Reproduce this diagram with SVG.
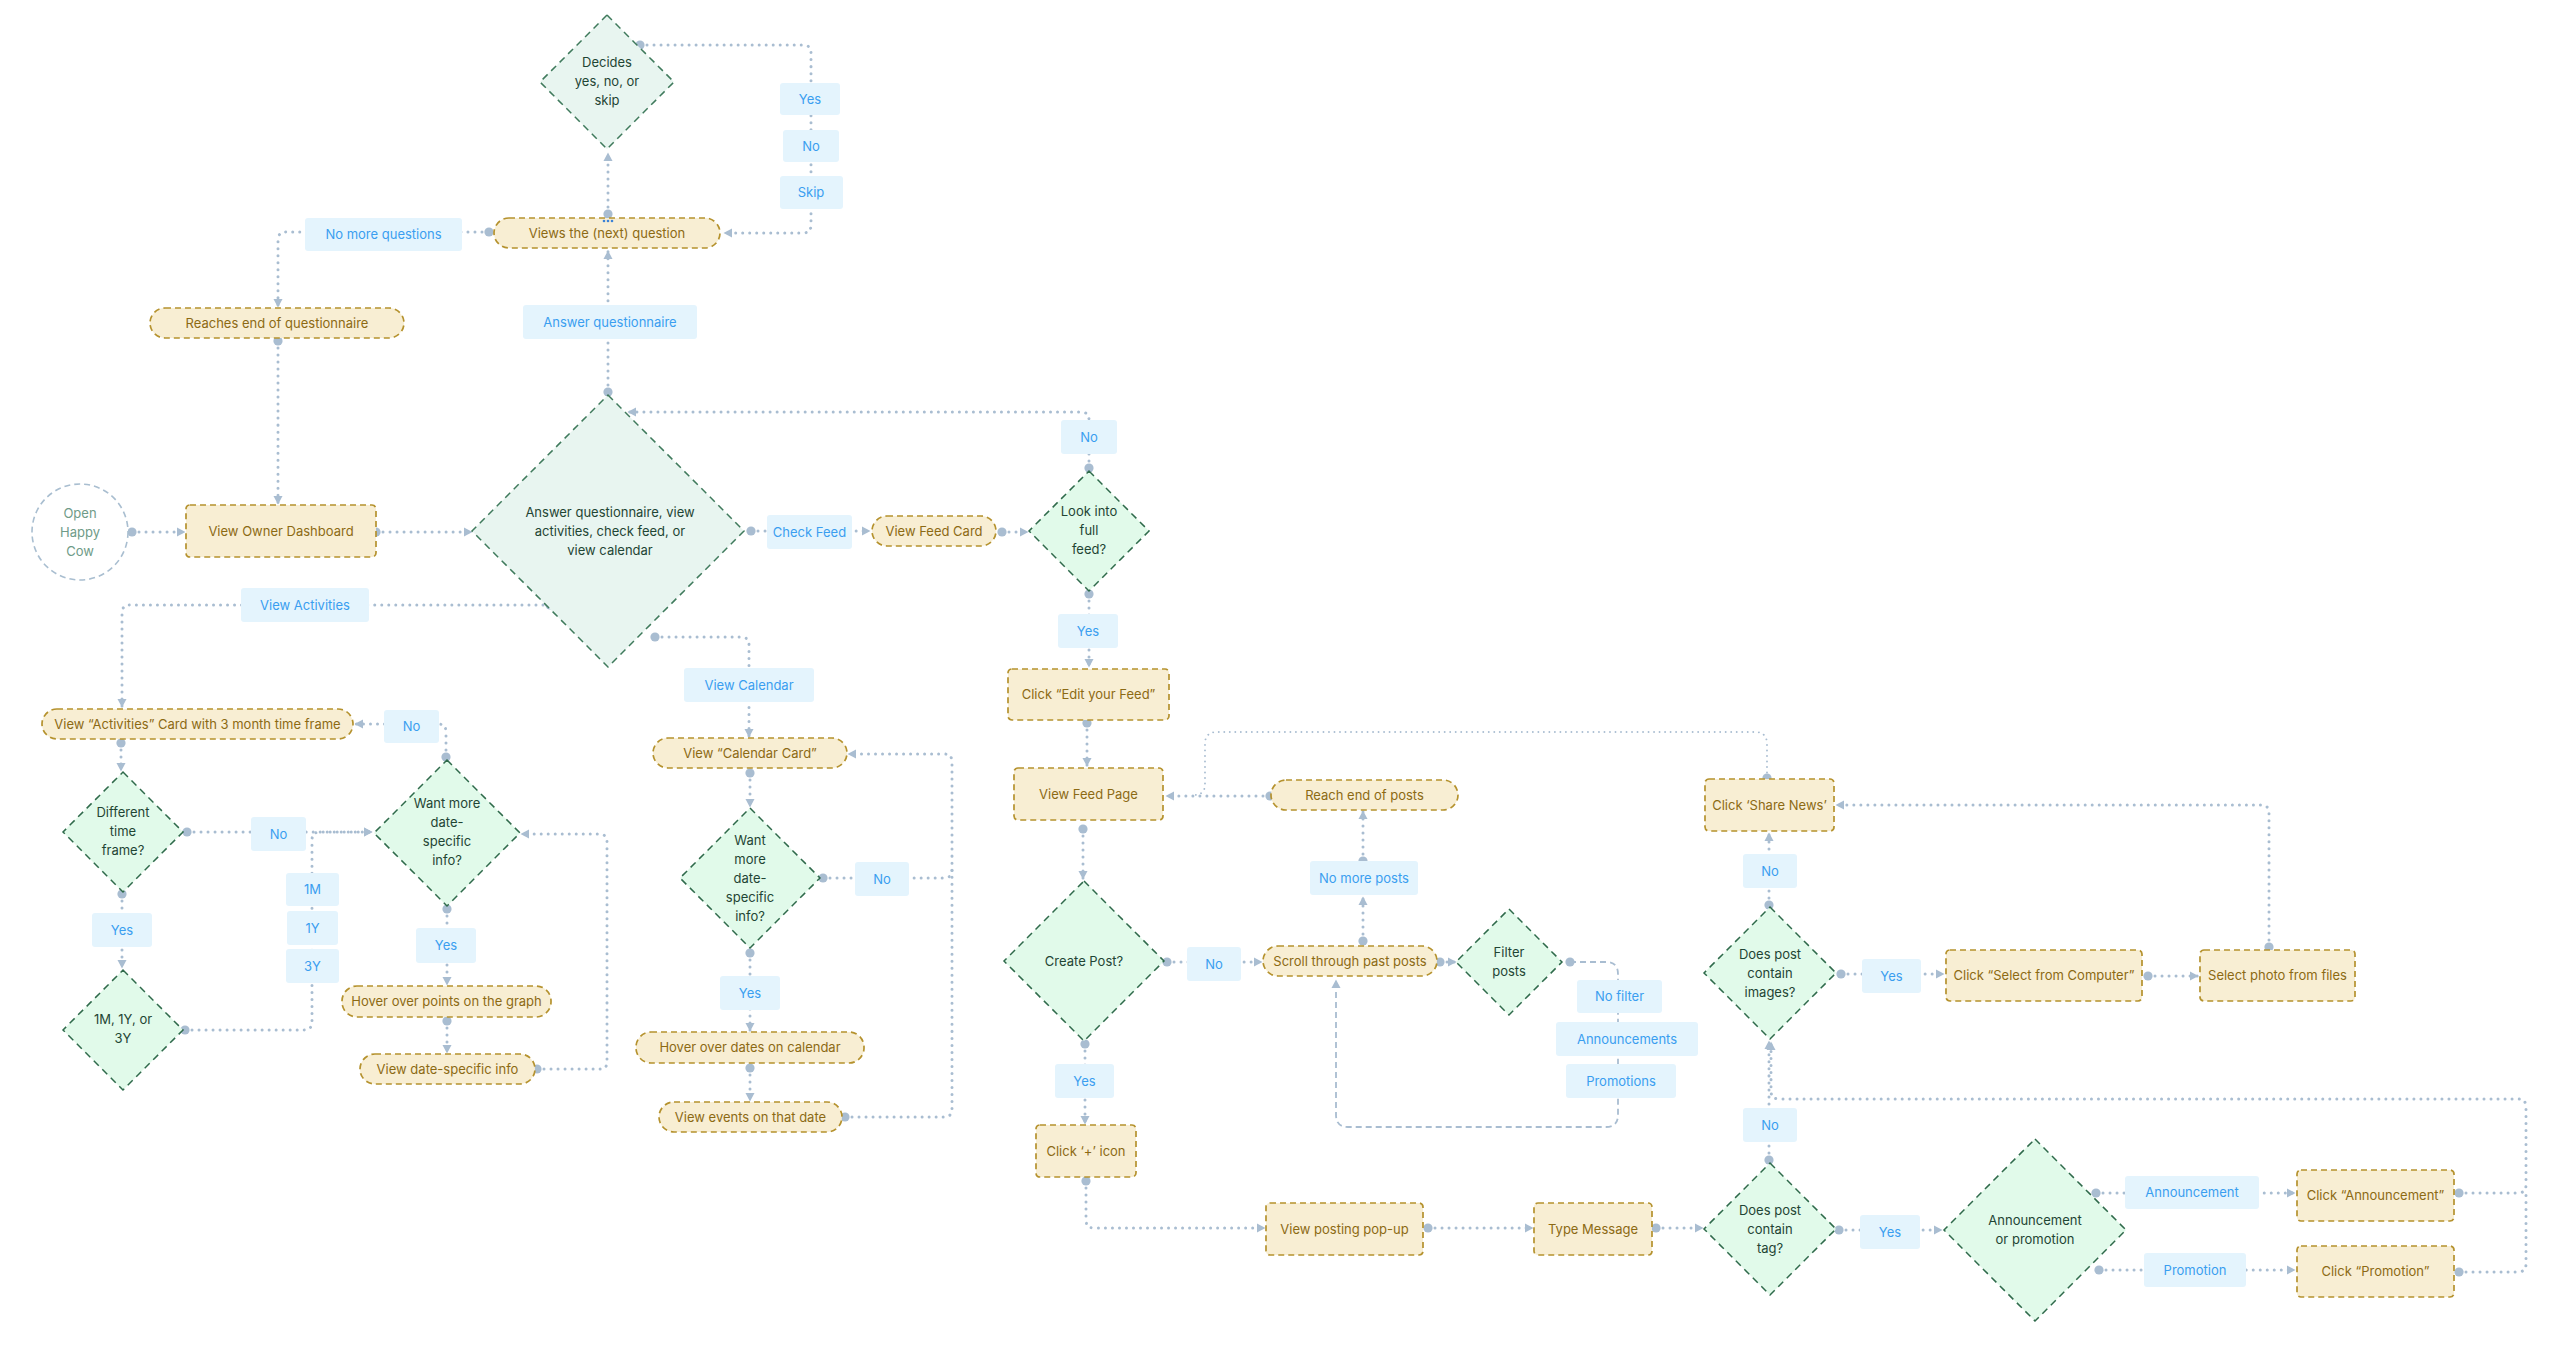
<svg xmlns="http://www.w3.org/2000/svg" width="2564" height="1364" viewBox="0 0 2564 1364">
<defs>
<style>
.p{fill:#F8EED3;stroke:#B5922E;stroke-width:1.7;stroke-dasharray:6 4}
.d{fill:#E1FAEA;stroke:#2F6A4B;stroke-width:1.5;stroke-dasharray:7 5}
.dg{fill:#E8F5F0;stroke:#3F7A5C;stroke-width:1.5;stroke-dasharray:7 5}
.l{fill:#E4F4FD}
.c{fill:none;stroke:#A9BDD1;stroke-width:3;stroke-linecap:round;stroke-dasharray:0.01 7;marker-start:url(#dot);marker-end:url(#arr)}
.cn{fill:none;stroke:#A9BDD1;stroke-width:3;stroke-linecap:round;stroke-dasharray:0.01 7;marker-start:url(#dot)}
.ct{fill:none;stroke:#A9BDD1;stroke-width:1.9;stroke-linecap:round;stroke-dasharray:0.01 5.5;marker-start:url(#dot)}
.cd{fill:none;stroke:#A9BDD1;stroke-width:1.8;stroke-dasharray:6 4;marker-start:url(#dot);marker-end:url(#arr)}
text{font-family:Inter,"Liberation Sans",sans-serif;font-size:13px;text-anchor:middle}
.tp{fill:#8C6A14}
.td{fill:#1F4534}
.tl{fill:#3A9EF0}
.ts{fill:#6F9B88}
</style>
<marker id="arr" markerUnits="userSpaceOnUse" markerWidth="10" markerHeight="10" refX="8" refY="5" orient="auto"><path d="M0,0.5 L8.5,5 L0,9.5 z" fill="#A9BDD1"/></marker>
<marker id="dot" markerUnits="userSpaceOnUse" markerWidth="12" markerHeight="12" refX="6" refY="6" orient="auto"><circle cx="6" cy="6" r="4.6" fill="#A9BDD1"/></marker>
</defs>
<rect width="2564" height="1364" fill="#FFFFFF"/>

<g id="connectors">
<path class="c" d="M640,45 H803 Q811,45 811,53 V225 Q811,233 803,233 H724"/>
<path class="c" d="M608,214 V153"/>
<path class="c" d="M489,232 H286 Q278,232 278,240 V307"/>
<path class="c" d="M278,341 V504"/>
<path class="c" d="M608,392 V251"/>
<path class="c" d="M132,532 H185"/>
<path class="c" d="M376,532 H472"/>
<path class="c" d="M751,531 H870"/>
<path class="c" d="M1002,532 H1028"/>
<path class="c" d="M1089,468 V420 Q1089,412 1081,412 H628"/>
<path class="c" d="M1089,594 V667"/>
<path class="c" d="M1087,723 V766"/>
<path class="c" d="M550,605 H130 Q122,605 122,613 V707"/>
<path class="c" d="M655,637 H741 Q749,637 749,645 V737"/>
<path class="c" d="M121,743 V771"/>
<path class="c" d="M446,757 V732 Q446,724 438,724 H355"/>
<path class="c" d="M187,832 H372"/>
<path class="c" d="M185,1030 H304 Q312,1030 312,1022 V840 Q312,832 320,832 H372"/>
<path class="c" d="M122,894 V968"/>
<path class="c" d="M447,909 V985"/>
<path class="c" d="M447,1021 V1053"/>
<path class="c" d="M537,1069 H600 Q607,1069 607,1062 V842 Q607,834 599,834 H521"/>
<path class="c" d="M750,773 V807"/>
<path class="cn" d="M823,878 H944 Q952,878 952,870"/>
<path class="c" d="M845,1117 H944 Q952,1117 952,1109 V762 Q952,754 944,754 H848"/>
<path class="c" d="M750,953 V1031"/>
<path class="c" d="M750,1068 V1101"/>
<path class="c" d="M1270,796 H1166"/>
<path class="ct" d="M1767,778 V744 Q1767,732 1755,732 H1217 Q1205,732 1205,744 V784 Q1205,795 1194,795"/>
<path class="c" d="M1083,829 V879"/>
<path class="c" d="M1167,962 H1262"/>
<path class="c" d="M1363,941 V897"/>
<path class="c" d="M1363,861 V811"/>
<path class="c" d="M1440,962 H1456"/>
<path class="cd" d="M1570,962 H1606 Q1618,962 1618,974 V1115 Q1618,1127 1606,1127 H1348 Q1336,1127 1336,1115 V980"/>
<path class="c" d="M1085,1044 V1124"/>
<path class="c" d="M1086,1181 V1220 Q1086,1228 1094,1228 H1265"/>
<path class="c" d="M1428,1228 H1533"/>
<path class="c" d="M1656,1228 H1703"/>
<path class="c" d="M1769,1160 V1041"/>
<path class="c" d="M1839,1230 H1942"/>
<path class="c" d="M2096,1193 H2295"/>
<path class="c" d="M2099,1270 H2295"/>
<path class="c" d="M2459,1193 H2518 Q2526,1193 2526,1185 V1107 Q2526,1099 2518,1099 H1779 Q1771,1099 1771,1091 V1042"/>
<path class="cn" d="M2459,1272 H2518 Q2526,1272 2526,1264 V1190"/>
<path class="c" d="M1769,905 V833"/>
<path class="c" d="M1841,974 H1944"/>
<path class="c" d="M2148,976 H2198"/>
<path class="c" d="M2269,947 V813 Q2269,805 2261,805 H1836"/>
</g>

<g id="start"><circle cx="80" cy="532" r="48" fill="#FFFFFF" stroke="#A9BED0" stroke-width="1.6" stroke-dasharray="6 4"/><text class="ts" x="80" y="518">Open</text><text class="ts" x="80" y="537">Happy</text><text class="ts" x="80" y="556">Cow</text></g>

<g id="decides"><polygon class="dg" points="607,15 674,82 607,149 540,82"/><text class="td" x="607" y="67">Decides</text><text class="td" x="607" y="86">yes, no, or</text><text class="td" x="607" y="105">skip</text></g>
<g id="lbl-yes1"><rect class="l" x="780" y="83" width="60" height="32" rx="3"/><text class="tl" x="810" y="103.5">Yes</text></g>
<g id="lbl-no1"><rect class="l" x="783" y="130" width="56" height="32" rx="3"/><text class="tl" x="811" y="150.5">No</text></g>
<g id="lbl-skip"><rect class="l" x="780" y="176" width="63" height="33" rx="3"/><text class="tl" x="811" y="197">Skip</text></g>
<g id="views"><rect class="p" x="494" y="218" width="226" height="30" rx="15"/><text class="tp" x="607" y="237.5">Views the (next) question</text><circle cx="604" cy="221" r="1.3" fill="#3B82D6"/><circle cx="608" cy="221" r="1.3" fill="#3B82D6"/><circle cx="612" cy="221" r="1.3" fill="#3B82D6"/></g>
<g id="lbl-nomoreq"><rect class="l" x="305" y="218" width="157" height="33" rx="3"/><text class="tl" x="383.5" y="239">No more questions</text></g>
<g id="reaches"><rect class="p" x="150" y="308" width="254" height="30" rx="15"/><text class="tp" x="277" y="327.5">Reaches end of questionnaire</text></g>
<g id="lbl-answer"><rect class="l" x="523" y="305" width="174" height="34" rx="3"/><text class="tl" x="610" y="326.5">Answer questionnaire</text></g>
<g id="dashboard"><rect class="p" x="186" y="505" width="190" height="52" rx="4"/><text class="tp" x="281" y="535.5">View Owner Dashboard</text></g>
<g id="main"><polygon class="dg" points="608,395 744,531 608,667 472,531"/><text class="td" x="610" y="517">Answer questionnaire, view</text><text class="td" x="610" y="536">activities, check feed, or</text><text class="td" x="610" y="555">view calendar</text></g>
<g id="lbl-checkfeed"><rect class="l" x="767" y="515" width="85" height="34" rx="3"/><text class="tl" x="809.5" y="536.5">Check Feed</text></g>
<g id="feedcard"><rect class="p" x="872" y="516" width="124" height="30" rx="15"/><text class="tp" x="934" y="535.5">View Feed Card</text></g>
<g id="lookinto"><polygon class="d" points="1089,471 1149,531 1089,591 1029,531"/><text class="td" x="1089" y="516">Look into</text><text class="td" x="1089" y="535">full</text><text class="td" x="1089" y="554">feed?</text></g>
<g id="lbl-no-look"><rect class="l" x="1061" y="420" width="56" height="34" rx="3"/><text class="tl" x="1089" y="441.5">No</text></g>
<g id="lbl-yes-look"><rect class="l" x="1058" y="614" width="60" height="34" rx="3"/><text class="tl" x="1088" y="635.5">Yes</text></g>
<g id="editfeed"><rect class="p" x="1008" y="669" width="161" height="51" rx="4"/><text class="tp" x="1088.5" y="699">Click “Edit your Feed”</text></g>

<g id="lbl-activities"><rect class="l" x="241" y="588" width="128" height="34" rx="3"/><text class="tl" x="305" y="609.5">View Activities</text></g>
<g id="lbl-calendar"><rect class="l" x="684" y="668" width="130" height="34" rx="3"/><text class="tl" x="749" y="689.5">View Calendar</text></g>
<g id="actcard"><rect class="p" x="42" y="709" width="311" height="30" rx="15"/><text class="tp" x="197.5" y="728.5">View “Activities” Card with 3 month time frame</text></g>
<g id="lbl-no-act"><rect class="l" x="384" y="710" width="55" height="33" rx="3"/><text class="tl" x="411.5" y="731">No</text></g>
<g id="different"><polygon class="d" points="123,772 183,832 123,892 63,832"/><text class="td" x="123" y="817">Different</text><text class="td" x="123" y="836">time</text><text class="td" x="123" y="855">frame?</text></g>
<g id="lbl-no-diff"><rect class="l" x="251" y="817" width="55" height="34" rx="3"/><text class="tl" x="278.5" y="838.5">No</text></g>
<g id="lbl-1m"><rect class="l" x="286" y="873" width="53" height="33" rx="3"/><text class="tl" x="312.5" y="894">1M</text></g>
<g id="lbl-1y"><rect class="l" x="287" y="911" width="51" height="34" rx="3"/><text class="tl" x="312.5" y="932.5">1Y</text></g>
<g id="lbl-3y"><rect class="l" x="286" y="949" width="53" height="34" rx="3"/><text class="tl" x="312.5" y="970.5">3Y</text></g>
<g id="lbl-yes-diff"><rect class="l" x="92" y="913" width="60" height="34" rx="3"/><text class="tl" x="122" y="934.5">Yes</text></g>
<g id="timeframe"><polygon class="d" points="123,970 183,1030 123,1090 63,1030"/><text class="td" x="123" y="1024">1M, 1Y, or</text><text class="td" x="123" y="1043">3Y</text></g>
<g id="wantact"><polygon class="d" points="447,760 520,833 447,906 374,833"/><text class="td" x="447" y="808">Want more</text><text class="td" x="447" y="827">date-</text><text class="td" x="447" y="846">specific</text><text class="td" x="447" y="865">info?</text></g>
<g id="lbl-yes-wantact"><rect class="l" x="416" y="928" width="60" height="35" rx="3"/><text class="tl" x="446" y="950">Yes</text></g>
<g id="hoverpoints"><rect class="p" x="342" y="986" width="209" height="31" rx="15"/><text class="tp" x="446.5" y="1006">Hover over points on the graph</text></g>
<g id="viewdate"><rect class="p" x="360" y="1054" width="175" height="30" rx="15"/><text class="tp" x="447.5" y="1073.5">View date-specific info</text></g>

<g id="calcard"><rect class="p" x="653" y="738" width="194" height="30" rx="15"/><text class="tp" x="750" y="757.5">View “Calendar Card”</text></g>
<g id="wantcal"><polygon class="d" points="750,808 820,878 750,948 680,878"/><text class="td" x="750" y="844.5">Want</text><text class="td" x="750" y="863.5">more</text><text class="td" x="750" y="882.5">date-</text><text class="td" x="750" y="901.5">specific</text><text class="td" x="750" y="920.5">info?</text></g>
<g id="lbl-no-cal"><rect class="l" x="855" y="862" width="54" height="34" rx="3"/><text class="tl" x="882" y="883.5">No</text></g>
<g id="lbl-yes-cal"><rect class="l" x="720" y="976" width="60" height="34" rx="3"/><text class="tl" x="750" y="997.5">Yes</text></g>
<g id="hoverdates"><rect class="p" x="636" y="1032" width="228" height="31" rx="15"/><text class="tp" x="750" y="1052">Hover over dates on calendar</text></g>
<g id="viewevents"><rect class="p" x="659" y="1102" width="183" height="30" rx="15"/><text class="tp" x="750.5" y="1121.5">View events on that date</text></g>

<g id="feedpage"><rect class="p" x="1014" y="768" width="149" height="52" rx="4"/><text class="tp" x="1088.5" y="798.5">View Feed Page</text></g>
<g id="reachend"><rect class="p" x="1271" y="780" width="187" height="30" rx="15"/><text class="tp" x="1364.5" y="799.5">Reach end of posts</text></g>
<g id="lbl-nomoreposts"><rect class="l" x="1310" y="861" width="108" height="34" rx="3"/><text class="tl" x="1364" y="882.5">No more posts</text></g>
<g id="createpost"><polygon class="d" points="1084,881 1164,961 1084,1041 1004,961"/><text class="td" x="1084" y="965.5">Create Post?</text></g>
<g id="lbl-no-create"><rect class="l" x="1187" y="947" width="54" height="34" rx="3"/><text class="tl" x="1214" y="968.5">No</text></g>
<g id="scroll"><rect class="p" x="1263" y="946" width="174" height="30" rx="15"/><text class="tp" x="1350" y="965.5">Scroll through past posts</text></g>
<g id="filter"><polygon class="d" points="1509,909 1562,962 1509,1015 1456,962"/><text class="td" x="1509" y="957">Filter</text><text class="td" x="1509" y="976">posts</text></g>
<g id="lbl-nofilter"><rect class="l" x="1577" y="980" width="85" height="33" rx="3"/><text class="tl" x="1619.5" y="1001">No filter</text></g>
<g id="lbl-announcements"><rect class="l" x="1556" y="1022" width="142" height="34" rx="3"/><text class="tl" x="1627" y="1043.5">Announcements</text></g>
<g id="lbl-promotions"><rect class="l" x="1566" y="1064" width="110" height="34" rx="3"/><text class="tl" x="1621" y="1085.5">Promotions</text></g>
<g id="lbl-yes-create"><rect class="l" x="1055" y="1064" width="59" height="34" rx="3"/><text class="tl" x="1084.5" y="1085.5">Yes</text></g>
<g id="clickplus"><rect class="p" x="1036" y="1125" width="100" height="52" rx="4"/><text class="tp" x="1086" y="1155.5">Click ‘+’ icon</text></g>
<g id="popup"><rect class="p" x="1266" y="1203" width="157" height="52" rx="4"/><text class="tp" x="1344.5" y="1233.5">View posting pop-up</text></g>
<g id="typemsg"><rect class="p" x="1534" y="1203" width="118" height="52" rx="4"/><text class="tp" x="1593" y="1233.5">Type Message</text></g>

<g id="sharenews"><rect class="p" x="1705" y="779" width="129" height="52" rx="4"/><text class="tp" x="1769.5" y="809.5">Click ‘Share News’</text></g>
<g id="lbl-no-img"><rect class="l" x="1743" y="854" width="54" height="34" rx="3"/><text class="tl" x="1770" y="875.5">No</text></g>
<g id="images"><polygon class="d" points="1770,907 1836,973 1770,1039 1704,973"/><text class="td" x="1770" y="959">Does post</text><text class="td" x="1770" y="978">contain</text><text class="td" x="1770" y="997">images?</text></g>
<g id="lbl-yes-img"><rect class="l" x="1862" y="959" width="59" height="34" rx="3"/><text class="tl" x="1891.5" y="980.5">Yes</text></g>
<g id="selectcomp"><rect class="p" x="1946" y="950" width="196" height="51" rx="4"/><text class="tp" x="2044" y="980">Click “Select from Computer”</text></g>
<g id="selectphoto"><rect class="p" x="2200" y="950" width="155" height="51" rx="4"/><text class="tp" x="2277.5" y="980">Select photo from files</text></g>
<g id="lbl-no-tag"><rect class="l" x="1743" y="1108" width="54" height="34" rx="3"/><text class="tl" x="1770" y="1129.5">No</text></g>
<g id="tag"><polygon class="d" points="1770,1163 1836,1229 1770,1295 1704,1229"/><text class="td" x="1770" y="1215">Does post</text><text class="td" x="1770" y="1234">contain</text><text class="td" x="1770" y="1253">tag?</text></g>
<g id="lbl-yes-tag"><rect class="l" x="1860" y="1215" width="60" height="34" rx="3"/><text class="tl" x="1890" y="1236.5">Yes</text></g>
<g id="annprom"><polygon class="d" points="2035,1139 2126,1230 2035,1321 1944,1230"/><text class="td" x="2035" y="1225">Announcement</text><text class="td" x="2035" y="1244">or promotion</text></g>
<g id="lbl-announcement"><rect class="l" x="2125" y="1176" width="134" height="33" rx="3"/><text class="tl" x="2192" y="1197">Announcement</text></g>
<g id="lbl-promotion"><rect class="l" x="2144" y="1253" width="102" height="34" rx="3"/><text class="tl" x="2195" y="1274.5">Promotion</text></g>
<g id="clickann"><rect class="p" x="2297" y="1170" width="157" height="51" rx="4"/><text class="tp" x="2375.5" y="1200">Click “Announcement”</text></g>
<g id="clickprom"><rect class="p" x="2297" y="1246" width="157" height="51" rx="4"/><text class="tp" x="2375.5" y="1276">Click “Promotion”</text></g>
</svg>
